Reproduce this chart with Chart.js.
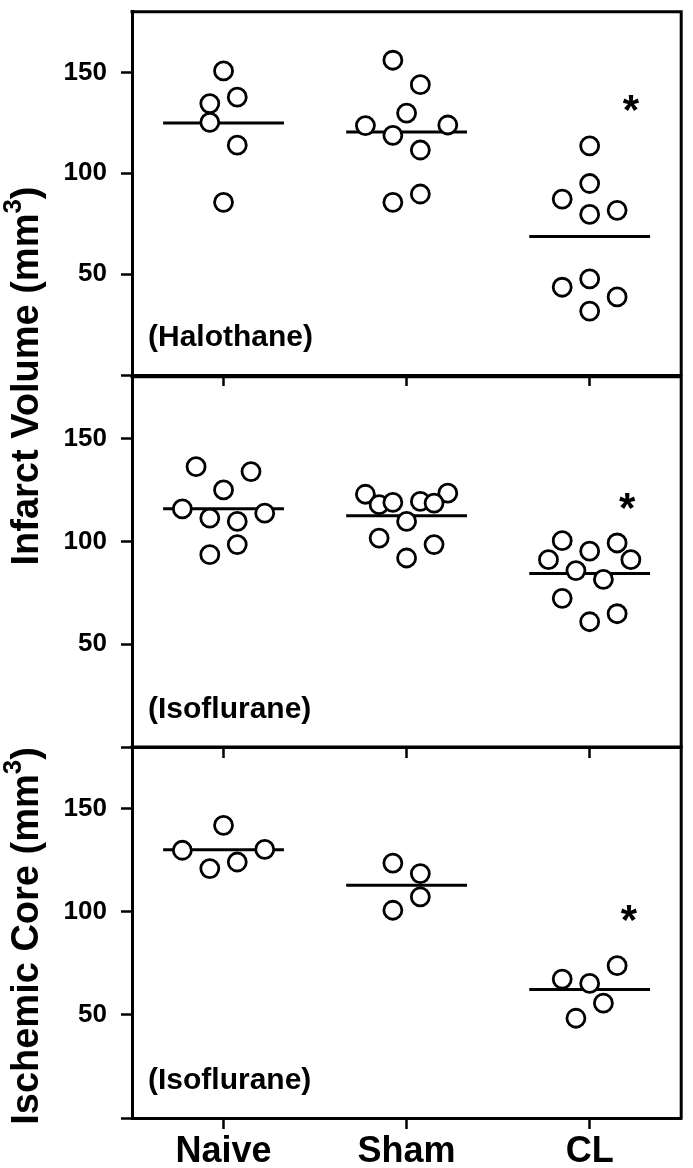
<!DOCTYPE html>
<html>
<head>
<meta charset="utf-8">
<script src="https://cdn.jsdelivr.net/npm/chart.js"></script>
<style>
  body { margin: 0; background: #fff; }
  #wrap { position: relative; width: 693px; height: 1168px; overflow: hidden; }
  canvas { position: absolute; left: 0; }
  .ytitle {
    position: absolute; white-space: nowrap; color: #000;
    font: bold 38px "Liberation Sans", Arial, sans-serif;
    transform: translate(-50%, -50%) rotate(-90deg);
  }
  .ytitle sup { font-size: 0.68em; line-height: 0; vertical-align: 0.62em; }
</style>
</head>
<body>
<div id="wrap">
  <canvas id="c1" style="top:0px" width="693" height="400"></canvas>
  <canvas id="c2" style="top:365px" width="693" height="400"></canvas>
  <canvas id="c3" style="top:735px" width="693" height="433"></canvas>
  <div class="ytitle" style="left:25px; top:376px">Infarct Volume (mm<sup>3</sup>)</div>
  <div class="ytitle" style="left:25px; top:936px">Ischemic Core (mm<sup>3</sup>)</div>
</div>
<script>
const groups = ['Naive', 'Sham', 'CL'];
const yTicks = [0, 50, 100, 150];

// infarct volume, halothane
const haloNaive  = [150.7, 137.7, 134.5, 125.2, 113.9, 85.6];
const haloNaiveX = [0, 0.075, -0.075, -0.075, 0.075, 0];
const haloSham   = [156, 143.9, 129.8, 123.6, 123.9, 118.8, 111.5, 89.7, 85.6];
const haloShamX  = [-0.075, 0.075, 0, -0.225, 0.225, -0.075, 0.075, 0.075, -0.075];
const haloCL     = [113.6, 94.9, 87.2, 79.6, 81.6, 47.6, 43.5, 38.7, 31.7];
const haloCLX    = [0, 0, -0.15, 0, 0.15, 0, -0.15, 0.15, 0];
const haloMeans  = [124.9, 120.4, 68.6];

// infarct volume, isoflurane
const isoNaive  = [136.3, 133.9, 125, 115.8, 113.7, 111.3, 109.7, 98.4, 93.5];
const isoNaiveX = [-0.15, 0.15, 0, -0.225, 0.225, -0.075, 0.075, 0.075, -0.075];
const isoSham   = [122.9, 123.4, 117.8, 118.9, 119.4, 118.6, 109.7, 101.6, 98.4, 91.9];
const isoShamX  = [-0.225, 0.225, -0.15, -0.075, 0.075, 0.15, 0, -0.15, 0.15, 0];
const isoCL     = [100.3, 99.2, 95.2, 91.1, 91.1, 85.8, 81.5, 72.3, 64.8, 60.9];
const isoCLX    = [-0.15, 0.15, 0, -0.225, 0.225, -0.075, 0.075, -0.15, 0.15, 0];
const isoMeans  = [115.8, 112.4, 84.3];

// ischemic core, isoflurane
const coreNaive  = [142, 129.9, 130.3, 121, 124.2];
const coreNaiveX = [0, -0.225, 0.225, -0.075, 0.075];
const coreSham   = [123.7, 118.6, 107.3, 100.8];
const coreShamX  = [-0.075, 0.075, 0.075, -0.075];
const coreCL     = [67.4, 73.9, 65.3, 55.7, 48.4];
const coreCLX    = [-0.15, 0.15, 0, 0.075, -0.075];
const coreMeans  = [130.2, 112.9, 62.4];

// asterisk over CL (y value, x offset from CL)
const starY  = [132.5, 117.8, 97.6];
const starDx = [0.225, 0.205, 0.215];

const fontFamily = '"Liberation Sans", Arial, sans-serif';
Chart.defaults.font.family = fontFamily;
Chart.defaults.color = '#000';

const extras = {
  id: 'extras',
  afterDatasetsDraw(chart, args, opts) {
    const { ctx, chartArea: a, scales: { x, y } } = chart;
    ctx.save();
    // top + right edge of the box
    ctx.strokeStyle = '#000';
    ctx.lineWidth = 3;
    ctx.beginPath();
    ctx.moveTo(a.left - 1.5, a.top);
    ctx.lineTo(a.right, a.top);
    ctx.lineTo(a.right, a.bottom + 1.5);
    ctx.stroke();
    // significance mark
    const fs = 42;
    ctx.fillStyle = '#000';
    ctx.font = 'bold ' + fs + 'px ' + fontFamily;
    ctx.textAlign = 'center';
    ctx.textBaseline = 'alphabetic';
    ctx.fillText('*', x.getPixelForValue(3 + opts.starDx), y.getPixelForValue(opts.starY) + fs * 0.4);
    // anaesthetic label
    ctx.font = 'bold 30px ' + fontFamily;
    ctx.textAlign = 'left';
    ctx.textBaseline = 'middle';
    ctx.fillText(opts.label, a.left + 16, a.bottom - 37);
    ctx.restore();
  }
};

function makePanel(id, p) {
  const points = [];
  p.values.forEach((vals, g) => {
    vals.forEach((v, i) => points.push({ x: g + 1 + p.jitter[g][i], y: v }));
  });
  const datasets = [{
    data: points,
    pointRadius: 9, pointHoverRadius: 9, borderWidth: 2.8,
    backgroundColor: '#fff', borderColor: '#000', order: 0
  }];
  p.means.forEach((m, g) => {
    datasets.push({
      data: [{ x: g + 1 - 0.33, y: m }, { x: g + 1 + 0.33, y: m }],
      showLine: true, borderColor: '#000', borderWidth: 3, pointRadius: 0, order: 1
    });
  });

  const tickGrid = {
    display: true, drawOnChartArea: false, drawTicks: true,
    tickLength: 11, tickWidth: 2.5, color: '#000'
  };

  return new Chart(document.getElementById(id), {
    type: 'scatter',
    data: { datasets },
    options: {
      responsive: false,
      animation: false,
      layout: { padding: { top: p.padTop, right: 7, left: 0, bottom: 0 } },
      plugins: {
        legend: { display: false },
        tooltip: { enabled: false },
        extras: { label: p.label, starY: p.starY, starDx: p.starDx }
      },
      scales: {
        x: {
          type: 'linear', min: 0.5, max: 3.5,
          afterBuildTicks: s => { s.ticks = groups.map((g, i) => ({ value: i + 1 })); },
          afterFit: s => { s.height = p.axisH; s.paddingLeft = 0; s.paddingRight = 0; },
          grid: tickGrid,
          border: { display: true, width: 3, color: '#000' },
          ticks: {
            display: p.showX, padding: 1, maxRotation: 0, autoSkip: false,
            font: { size: 36, weight: 'bold' },
            callback: v => groups[Math.round(v) - 1]
          }
        },
        y: {
          min: 0, max: 180,
          afterBuildTicks: s => { s.ticks = yTicks.map(v => ({ value: v })); },
          afterFit: s => { s.width = 132; s.paddingTop = 0; s.paddingBottom = 0; },
          grid: tickGrid,
          border: { display: true, width: 3, color: '#000' },
          ticks: {
            padding: 14,
            font: { size: 26, weight: 'bold' },
            callback: v => (v === 0 ? '' : v)
          }
        }
      }
    },
    plugins: [extras]
  });
}

makePanel('c1', {
  values: [haloNaive, haloSham, haloCL], jitter: [haloNaiveX, haloShamX, haloCLX],
  means: haloMeans, starY: starY[0], starDx: starDx[0], label: '(Halothane)',
  padTop: 4, axisH: 25, showX: false
});
makePanel('c2', {
  values: [isoNaive, isoSham, isoCL], jitter: [isoNaiveX, isoShamX, isoCLX],
  means: isoMeans, starY: starY[1], starDx: starDx[1], label: '(Isoflurane)',
  padTop: 10, axisH: 18, showX: false
});
makePanel('c3', {
  values: [coreNaive, coreSham, coreCL], jitter: [coreNaiveX, coreShamX, coreCLX],
  means: coreMeans, starY: starY[2], starDx: starDx[2], label: '(Isoflurane)',
  padTop: 12, axisH: 50, showX: true
});
</script>
</body>
</html>
